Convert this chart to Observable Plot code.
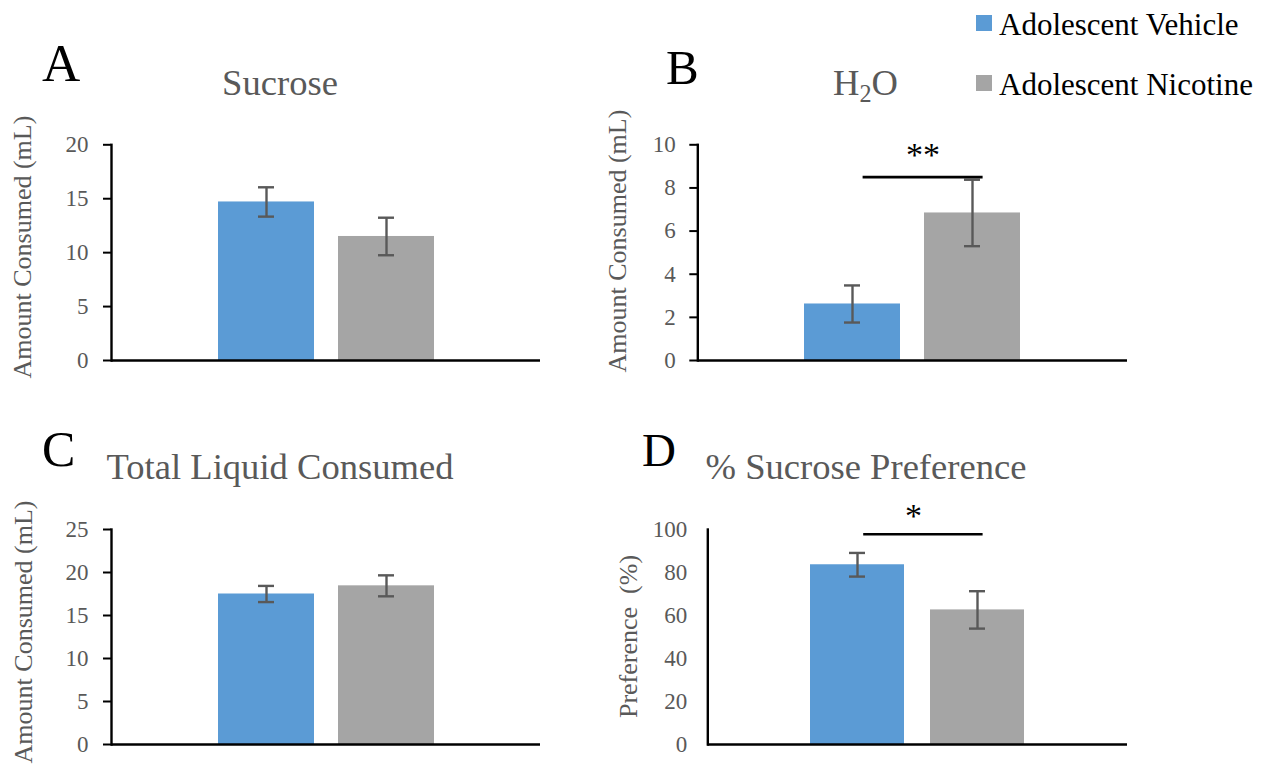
<!DOCTYPE html>
<html><head><meta charset="utf-8">
<script src="https://cdn.jsdelivr.net/npm/d3@7"></script>
<script src="https://cdn.jsdelivr.net/npm/@observablehq/plot@0.6"></script>
<style>
body{margin:0;background:#fff;}
#fig{position:relative;width:1261px;height:767px;overflow:hidden;font-family:"Liberation Serif","Times New Roman",serif;background:#fff;}
#fig svg{position:absolute;}
.t{position:absolute;white-space:nowrap;line-height:1;}
.sw{position:absolute;width:16px;height:16px;}
</style></head><body><div id="fig"></div>
<script>
// ---- data ----
const groups = ["Adolescent Vehicle", "Adolescent Nicotine"];
const groupColors = ["#5B9BD5", "#A5A5A5"];

const sucroseMean = [14.7, 11.5];
const sucroseErr = [1.36, 1.74];
const waterMean = [2.62, 6.84];
const waterErr = [0.86, 1.54];
const totalMean = [17.5, 18.45];
const totalErr = [0.94, 1.22];
const prefMean = [83.6, 62.6];
const prefErr = [5.5, 8.7];

const ticksA = [0, 5, 10, 15, 20];
const ticksB = [0, 2, 4, 6, 8, 10];
const ticksC = [0, 5, 10, 15, 20, 25];
const ticksD = [0, 20, 40, 60, 80, 100];

const panelTitles = ["Sucrose", "H<span style=\"font-size:0.66em;position:relative;top:0.28em\">2</span>O", "Total Liquid Consumed", "% Sucrose Preference"];
const panelLetters = ["A", "B", "C", "D"];
const yLabels = ["Amount Consumed (mL)", "Amount Consumed (mL)", "Amount Consumed (mL)", "Preference\u00a0 (%)"];
const sigLabels = ["**", "*"];
const sigLevels = [8.5, 97.8];

const serif = "'Liberation Serif', 'Times New Roman', serif";

// ---- layout (page pixels) ----
const layouts = [
  {left: 0,   top: 100, axisX: 111,   y0: 360, yTop: 144.3, xEnd: 540,  pi: 0.2,   po: 0.8875, cap: 40, tickSize: 8, tickPadding: 15, labelDx: -89.3, labelDy: -5.6},
  {left: 586, top: 100, axisX: 697.3, y0: 360, yTop: 144.3, xEnd: 1127, pi: 0.2,   po: 0.89,   cap: 40, tickSize: 8, tickPadding: 14, labelDx: -80.6, labelDy: -11.6,
   sigInsetL: 58.6, sigInsetR: 37.4, sigDx: 70.4, sigDy: -22.5},
  {left: 0,   top: 484, axisX: 111,   y0: 744, yTop: 529,   xEnd: 540,  pi: 0.2,   po: 0.8875, cap: 40, tickSize: 8, tickPadding: 15, labelDx: -87.8, labelDy: -5},
  {left: 596, top: 484, axisX: 707.3, y0: 744, yTop: 529,   xEnd: 1127, pi: 0.217, po: 0.857,  cap: 39, tickSize: 0, tickPadding: 20.6, labelDx: -78.9, labelDy: -0.5,
   sigInsetL: 53.2, sigInsetR: 41.4, sigDx: 55.9, sigDy: -18.6}
];

const fig = document.getElementById("fig");

function panel(mean, err, ticks, yLabel, L, sigLabel, sigLevel) {
  const rows = groups.map((g, i) => ({group: g, mean: mean[i], lo: mean[i] - err[i], hi: mean[i] + err[i]}));
  const width = L.xEnd + 5 - L.left;
  const height = L.y0 + 30 - L.top;
  const errStyle = {stroke: "#595959", strokeWidth: 2.4};
  const marks = [
    Plot.barY(rows, {x: "group", y: "mean", fill: "group"}),
    Plot.ruleX(rows, {x: "group", y1: "lo", y2: "hi", ...errStyle}),
    Plot.tickY(rows, {x: "group", y: "lo", insetLeft: L.cap, insetRight: L.cap, ...errStyle}),
    Plot.tickY(rows, {x: "group", y: "hi", insetLeft: L.cap, insetRight: L.cap, ...errStyle}),
    Plot.ruleY([0], {stroke: "black", strokeWidth: 2.4}),
    Plot.frame({anchor: "left", stroke: "black", strokeWidth: 2.4}),
    Plot.axisY({ticks, tickSize: L.tickSize, tickPadding: L.tickPadding, stroke: "black", strokeWidth: 2, fill: "#595959", label: null, fontSize: 23, fontFamily: serif}),
    Plot.text([yLabel], {text: d => d, frameAnchor: "left", textAnchor: "middle", rotate: -90, dx: L.labelDx, dy: L.labelDy, fontSize: 26, fontFamily: serif, fill: "#595959", lineAnchor: "middle"})
  ];
  if (sigLabel) {
    const sig = [{label: sigLabel, y: sigLevel}];
    marks.push(
      Plot.ruleY(sig, {x1: () => groups[0], x2: () => groups[1], y: "y", stroke: "black", strokeWidth: 2.6, insetLeft: L.sigInsetL, insetRight: L.sigInsetR}),
      Plot.text(sig, {x: () => groups[0], y: "y", text: "label", dx: L.sigDx, dy: L.sigDy, fontSize: 34, fontFamily: serif, fill: "black", lineAnchor: "middle"})
    );
  }
  const svg = Plot.plot({
    width, height,
    marginLeft: L.axisX - L.left,
    marginRight: width - (L.xEnd - L.left),
    marginTop: L.yTop - L.top,
    marginBottom: height - (L.y0 - L.top),
    x: {domain: groups, paddingInner: L.pi, paddingOuter: L.po, axis: null},
    y: {domain: [0, d3.max(ticks)], axis: null},
    color: {domain: groups, range: groupColors},
    style: {fontFamily: serif, fontSize: "23px", background: "transparent", color: "#595959", overflow: "visible"},
    marks
  });
  svg.style.left = L.left + "px";
  svg.style.top = L.top + "px";
  fig.append(svg);
}

panel(sucroseMean, sucroseErr, ticksA, yLabels[0], layouts[0]);
panel(waterMean, waterErr, ticksB, yLabels[1], layouts[1], sigLabels[0], sigLevels[0]);
panel(totalMean, totalErr, ticksC, yLabels[2], layouts[2]);
panel(prefMean, prefErr, ticksD, yLabels[3], layouts[3], sigLabels[1], sigLevels[1]);

// ---- html text: titles, letters, legend ----
function label(html, x, baseline, size, color, anchor) {
  const d = document.createElement("div");
  d.className = "t";
  d.innerHTML = html;
  d.style.fontSize = size + "px";
  d.style.color = color;
  d.style.left = x + "px";
  d.style.top = (baseline - 0.8375 * size) + "px";
  if (anchor === "middle") d.style.transform = "translateX(-50%)";
  fig.append(d);
}
const titlePos = [[280, 96], [865.5, 96], [280, 480], [866, 480]];
panelTitles.forEach((t, i) => label(t, titlePos[i][0], titlePos[i][1], 36.6, "#595959", "middle"));
const letterPos = [[42, 81.7, 53], [666, 84.3, 49], [42, 466, 50], [642, 466, 47]];
panelLetters.forEach((t, i) => label(t, letterPos[i][0], letterPos[i][1], letterPos[i][2], "#000"));

groups.forEach((g, i) => {
  const sw = document.createElement("div");
  sw.className = "sw";
  sw.style.left = "976px";
  sw.style.top = (15 + 60 * i) + "px";
  sw.style.background = groupColors[i];
  fig.append(sw);
  label(g, 999, 35 + 60 * i, 31, "#000");
});
</script>
</body></html>
